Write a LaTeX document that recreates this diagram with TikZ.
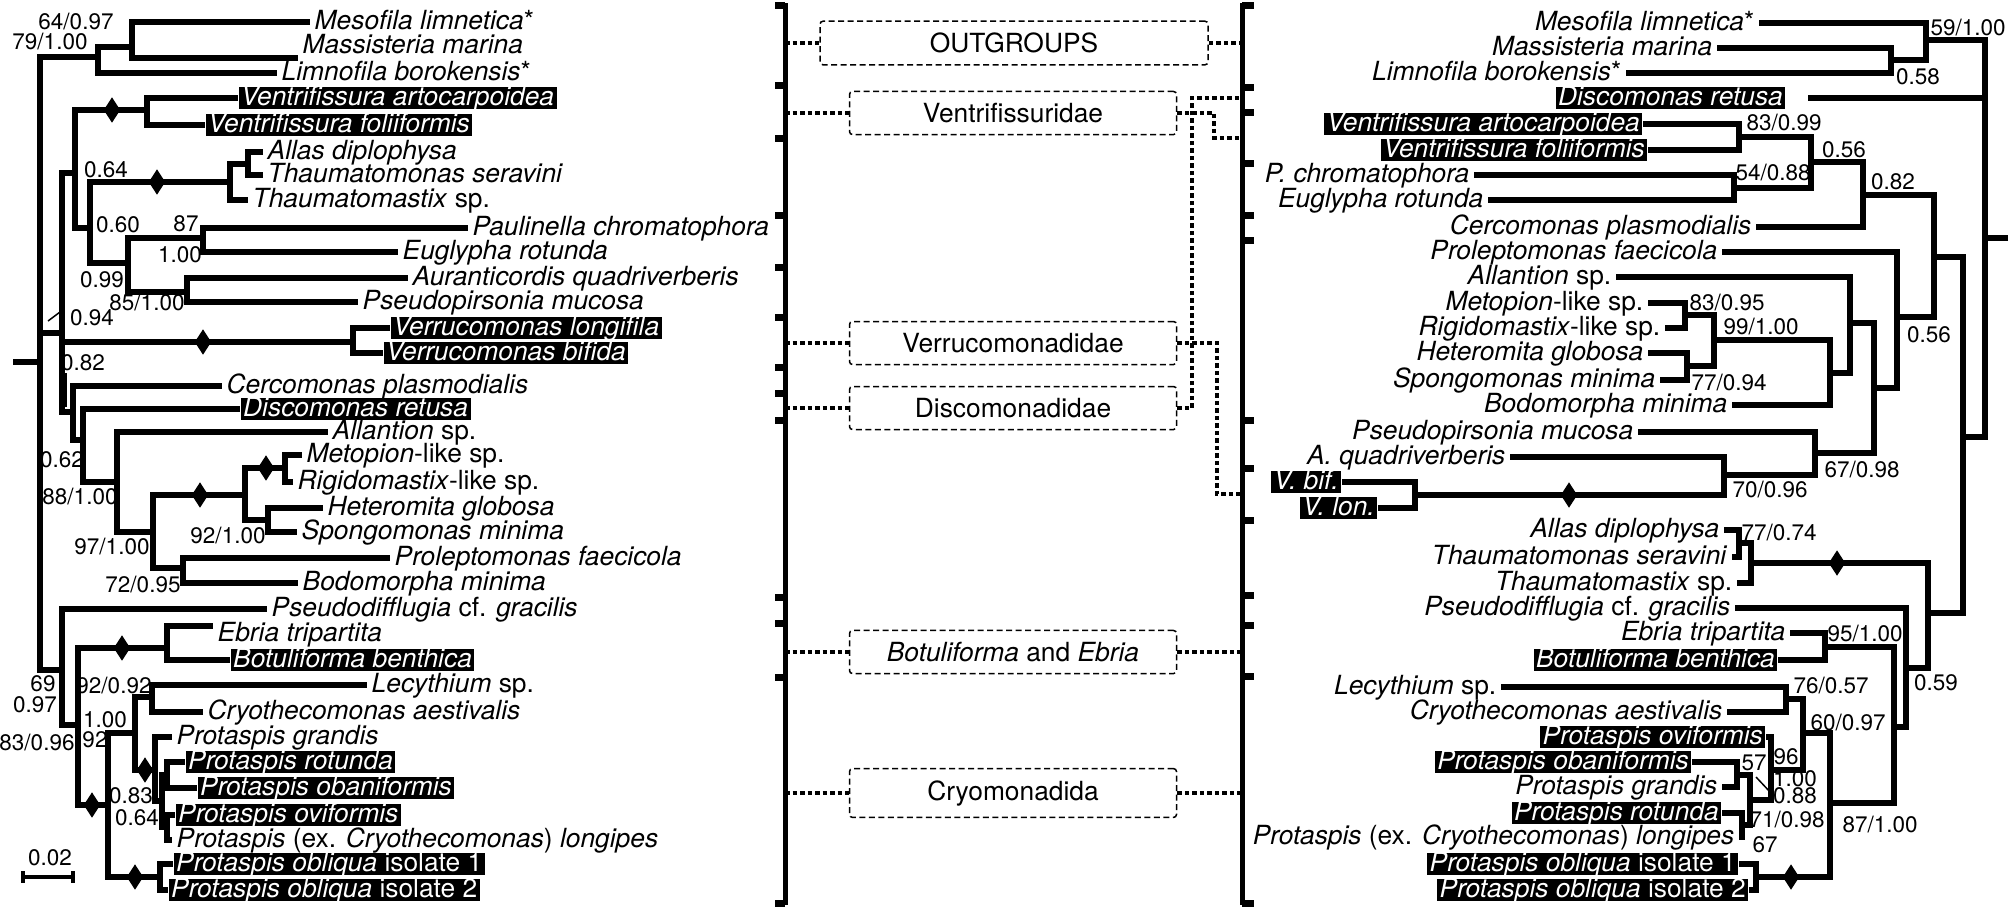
\documentclass[tikz,border=0pt]{standalone}
\usepackage{fontspec}
\setmainfont{TeX Gyre Heros}
\usetikzlibrary{shapes.geometric}
\newcommand{\leaffont}{\fontsize{7.5pt}{8pt}\selectfont}
\newcommand{\suppfont}{\fontsize{6.4pt}{7pt}\selectfont}
\newcommand{\grpfont}{\fontsize{7.5pt}{8pt}\selectfont}

\begin{document}
\begin{tikzpicture}[x=0.1mm, y=-0.1mm,
    br/.style={line width=0.55mm},
    leafL/.style={anchor=west, inner xsep=0.4mm, inner ysep=0.03mm, text height=1.8mm, text depth=0.4mm, font=\leaffont},
    leafR/.style={leafL, anchor=east},
    hiL/.style={leafL, fill=black, text=white, inner xsep=0.25mm},
    hiR/.style={hiL, anchor=east},
    supval/.style={font=\suppfont, inner sep=0},
    dia/.style={diamond, fill=black, inner sep=0, minimum width=1.7mm, minimum height=2.6mm},
    grp/.style={draw, line width=0.15mm, dash pattern=on 0.6mm off 0.35mm, rounded corners=0.3mm, minimum width=32.7mm, minimum height=3.9mm, font=\grpfont},
    lead/.style={line width=0.45mm, dash pattern=on 0.45mm off 0.3mm},
    brk/.style={line width=0.5mm},
    tck/.style={line width=0.7mm}]
    \useasboundingbox (0,0) rectangle (2011,910);

    % left tree
    \node[leafL] (Lmes) at (310,22) {\textit{Mesofila limnetica}*};
    \node[leafL, anchor=south west] (Lmas) at (298,58) {\textit{Massisteria marina}};
    \node[leafL] (Llim) at (277,73) {\textit{Limnofila borokensis}*};
    \node[hiL] (Lvar) at (238,98) {\textit{Ventrifissura artocarpoidea}};
    \node[hiL] (Lvfo) at (205,125) {\textit{Ventrifissura foliiformis}};
    \node[leafL] (Lall) at (263,152) {\textit{Allas diplophysa}};
    \node[leafL] (Lths) at (263,175) {\textit{Thaumatomonas seravini}};
    \node[leafL] (Ltmx) at (248,200) {\textit{Thaumatomastix} sp.};
    \node[leafL] (Lpau) at (468,228) {\textit{Paulinella chromatophora}};
    \node[leafL] (Leug) at (398,252) {\textit{Euglypha rotunda}};
    \node[leafL] (Laur) at (408,278) {\textit{Auranticordis quadriverberis}};
    \node[leafL] (Lpsp) at (358,302) {\textit{Pseudopirsonia mucosa}};
    \node[hiL] (Lvlo) at (390,328) {\textit{Verrucomonas longifila}};
    \node[hiL] (Lvbi) at (383,353) {\textit{Verrucomonas bifida}};
    \node[leafL] (Lcer) at (222,386) {\textit{Cercomonas plasmodialis}};
    \node[hiL] (Ldis) at (240,409) {\textit{Discomonas retusa}};
    \node[leafL] (Lalt) at (328,432) {\textit{Allantion} sp.};
    \node[leafL] (Lmet) at (302,455) {\textit{Metopion}-like sp.};
    \node[leafL] (Lrig) at (293,482) {\textit{Rigidomastix}-like sp.};
    \node[leafL] (Lhet) at (323,508) {\textit{Heteromita globosa}};
    \node[leafL] (Lspo) at (297,532) {\textit{Spongomonas minima}};
    \node[leafL] (Lpro) at (390,558) {\textit{Proleptomonas faecicola}};
    \node[leafL] (Lbod) at (298,583) {\textit{Bodomorpha minima}};
    \node[leafL] (Lpdf) at (267,609) {\textit{Pseudodifflugia} cf. \textit{gracilis}};
    \node[leafL] (Lebr) at (213,634) {\textit{Ebria tripartita}};
    \node[hiL] (Lbot) at (230,660) {\textit{Botuliforma benthica}};
    \node[leafL] (Llec) at (367,685) {\textit{Lecythium} sp.};
    \node[leafL] (Lcry) at (203,712) {\textit{Cryothecomonas aestivalis}};
    \node[leafL] (Lgra) at (172,737) {\textit{Protaspis grandis}};
    \node[hiL] (Lrot) at (185,762) {\textit{Protaspis rotunda}};
    \node[hiL] (Loba) at (197,788) {\textit{Protaspis obaniformis}};
    \node[hiL] (Lovi) at (175,815) {\textit{Protaspis oviformis}};
    \node[leafL] (Llon) at (172,840) {\textit{Protaspis} (ex. \textit{Cryothecomonas}) \textit{longipes}};
    \node[hiL] (Lob1) at (173,864) {\textit{Protaspis obliqua} isolate 1};
    \node[hiL] (Lob2) at (168,890) {\textit{Protaspis obliqua} isolate 2};

    \coordinate (stubL) at (13,362);
    \coordinate (kLroot) at (40,362);
    \coordinate (kLout) at (98,57);
    \coordinate (kLmm) at (132,47);
    \coordinate (kLa) at (62,333);
    \coordinate (kLb) at (75,173);
    \coordinate (kLve) at (147,110);
    \coordinate (kLc) at (90,228);
    \coordinate (kLth) at (230,182);
    \coordinate (kLat) at (248,164);
    \coordinate (kLd) at (128,263);
    \coordinate (kLpe) at (203,238);
    \coordinate (kLap) at (187,292);
    \coordinate (kLvr) at (353,342);
    \coordinate (kLe) at (73,412);
    \coordinate (kLf) at (83,440);
    \coordinate (kLg) at (117,482);
    \coordinate (kLh) at (153,532);
    \coordinate (kLi) at (245,495);
    \coordinate (kLmr) at (285,468);
    \coordinate (kLhs) at (268,520);
    \coordinate (kLpb) at (183,568);
    \coordinate (kLj) at (62,670);
    \coordinate (kLk) at (78,725);
    \coordinate (kLeb) at (167,648);
    \coordinate (kLl) at (108,805);
    \coordinate (kLm) at (135,733);
    \coordinate (kLlc) at (152,697);
    \coordinate (kLn) at (155,770);
    \coordinate (kLo) at (162,801);
    \coordinate (kLro) at (167,775);
    \coordinate (kLol) at (167,827);
    \coordinate (kLob) at (160,877);

    \draw[br] (stubL) -- (kLroot) |- (kLout);
    \draw[br] (kLroot) |- (kLa) (kLroot) |- (kLj);
    \draw[br] (kLout) |- (kLmm) (kLout) |- (Llim.west);
    \draw[br] (kLmm) |- (Lmes.west) (kLmm) |- (Lmas.south west);
    \draw[br] (kLa) |- (kLb) (kLa) |- (kLvr) (kLa) |- (kLe);
    \draw[br] (kLb) |- (kLve) (kLb) |- (kLc);
    \draw[br] (kLve) |- (Lvar.west) (kLve) |- (Lvfo.west);
    \draw[br] (kLc) |- (kLth) (kLc) |- (kLd);
    \draw[br] (kLth) |- (kLat) (kLth) |- (Ltmx.west);
    \draw[br] (kLat) |- (Lall.west) (kLat) |- (Lths.west);
    \draw[br] (kLd) |- (kLpe) (kLd) |- (kLap);
    \draw[br] (kLpe) |- (Lpau.west) (kLpe) |- (Leug.west);
    \draw[br] (kLap) |- (Laur.west) (kLap) |- (Lpsp.west);
    \draw[br] (kLvr) |- (Lvlo.west) (kLvr) |- (Lvbi.west);
    \draw[br] (kLe) |- (Lcer.west) (kLe) |- (kLf);
    \draw[br] (kLf) |- (Ldis.west) (kLf) |- (kLg);
    \draw[br] (kLg) |- (Lalt.west) (kLg) |- (kLh);
    \draw[br] (kLh) |- (kLi) (kLh) |- (kLpb);
    \draw[br] (kLi) |- (kLmr) (kLi) |- (kLhs);
    \draw[br] (kLmr) |- (Lmet.west) (kLmr) |- (Lrig.west);
    \draw[br] (kLhs) |- (Lhet.west) (kLhs) |- (Lspo.west);
    \draw[br] (kLpb) |- (Lpro.west) (kLpb) |- (Lbod.west);
    \draw[br] (kLj) |- (Lpdf.west) (kLj) |- (kLk);
    \draw[br] (kLk) |- (kLeb) (kLk) |- (kLl);
    \draw[br] (kLeb) |- ([yshift=0.8mm]Lebr.west) (kLeb) |- (Lbot.west);
    \draw[br] (kLl) |- (kLm) (kLl) |- (kLob);
    \draw[br] (kLm) |- (kLlc) (kLm) |- (kLn);
    \draw[br] (kLlc) |- (Llec.west) (kLlc) |- (Lcry.west);
    \draw[br] (kLn) |- (Lgra.west) (kLn) |- (kLo);
    \draw[br] (kLo) |- (kLro) (kLo) |- (kLol);
    \draw[br] (kLro) |- (Lrot.west) (kLro) |- (Loba.west);
    \draw[br] (kLol) |- (Lovi.west) (kLol) |- (Llon.west);
    \draw[br] (kLob) |- (Lob1.west) (kLob) |- (Lob2.west);

    \node[dia] (dL1) at (112,110) {};
    \node[dia] (dL2) at (157,182) {};
    \node[dia] (dL3) at (203,342) {};
    \node[dia] (dL4) at (200,495) {};
    \node[dia] (dL5) at (266,468) {};
    \node[dia] (dL6) at (122,648) {};
    \node[dia] (dL7) at (92,805) {};
    \node[dia] (dL8) at (145,770) {};
    \node[dia] (dL9) at (135,877) {};

    \node[supval] (sL1) at (76,22) {64/0.97};
    \node[supval] (sL2) at (50,42) {79/1.00};
    \node[supval] (sL3) at (106,170) {0.64};
    \node[supval] (sL4) at (118,225) {0.60};
    \node[supval] (sL5) at (186,224) {87};
    \node[supval] (sL6) at (180,255) {1.00};
    \node[supval] (sL7) at (102,280) {0.99};
    \node[supval] (sL8) at (147,303) {85/1.00};
    \node[supval] (sL9) at (92,318) {0.94};
    \node[supval] (sL10) at (83,363) {0.82};
    \node[supval] (sL11) at (62,460) {0.62};
    \node[supval] (sL12) at (80,497) {88/1.00};
    \node[supval] (sL13) at (112,547) {97/1.00};
    \node[supval] (sL14) at (228,536) {92/1.00};
    \node[supval] (sL15) at (143,585) {72/0.95};
    \node[supval] (sL16) at (43,684) {69};
    \node[supval] (sL17) at (35,705) {0.97};
    \node[supval] (sL18) at (114,685) {92/0.92};
    \node[supval] (sL19) at (105,720) {1.00};
    \node[supval] (sL20) at (95,740) {92};
    \node[supval] (sL21) at (37,742) {83/0.96};
    \node[supval] (sL22) at (131,796) {0.83};
    \node[supval] (sL23) at (137,818) {0.64};
    \draw[line width=0.15mm] (48,321) -- (60,312);
    \draw[line width=0.15mm] (66,373) -- (66,407);

    \node[supval] (scale) at (50,858) {0.02};
    \draw[line width=0.4mm] (23,877) -- (73,877) (23,871) -- (23,883) (73,871) -- (73,883);

    % brackets and groups
    \draw[brk] (785,3) -- (785,905);
    \foreach \y in {5,85,138,215,267,317,367,393,420,597,623,677,903}
        \draw[tck] (775,\y) -- (785,\y);
    \draw[brk] (1242,3) -- (1242,905);
    \foreach \y in {5,87,112,163,215,240,420,468,520,595,625,676,903}
        \draw[tck] (1242,\y) -- (1254,\y);

    \node[grp, minimum width=38.8mm] (gOut) at (1014,43) {OUTGROUPS};
    \node[grp] (gVen) at (1013,113) {Ventrifissuridae};
    \node[grp] (gVer) at (1013,343) {Verrucomonadidae};
    \node[grp] (gDis) at (1013,408) {Discomonadidae};
    \node[grp] (gBot) at (1013,652) {\textit{Botuliforma} and \textit{Ebria}};
    \node[grp] (gCry) at (1013,793) {Cryomonadida};

    \coordinate (bLout) at (785,43);
    \coordinate (bLven) at (785,113);
    \coordinate (bLver) at (785,343);
    \coordinate (bLdis) at (785,408);
    \coordinate (bLbot) at (785,652);
    \coordinate (bLcry) at (785,793);
    \coordinate (bRout) at (1242,43);
    \coordinate (cVen) at (1214,138);
    \coordinate (bRven) at (1242,138);
    \coordinate (cVer) at (1217,494);
    \coordinate (bRver) at (1242,494);
    \coordinate (cDis) at (1192,98);
    \coordinate (bRdis) at (1242,98);
    \coordinate (bRbot) at (1242,652);
    \coordinate (bRcry) at (1242,793);

    \draw[lead] (bLout) -- (gOut.west) (gOut.east) -- (bRout);
    \draw[lead] (bLven) -- (gVen.west) (gVen.east) -| (cVen) -- (bRven);
    \draw[lead] (bLver) -- (gVer.west) (gVer.east) -| (cVer) -- (bRver);
    \draw[lead] (bLdis) -- (gDis.west) (gDis.east) -| (cDis) -- (bRdis);
    \draw[lead] (bLbot) -- (gBot.west) (gBot.east) -- (bRbot);
    \draw[lead] (bLcry) -- (gCry.west) (gCry.east) -- (bRcry);

    % right tree
    \node[leafR] (Rmes) at (1759,23) {\textit{Mesofila limnetica}*};
    \node[leafR] (Rmas) at (1717,48) {\textit{Massisteria marina}};
    \node[leafR] (Rlim) at (1626,73) {\textit{Limnofila borokensis}*};
    \node[hiR] (Rdis) at (1786,98) {\textit{Discomonas retusa}};
    \node[hiR] (Rvar) at (1643,124) {\textit{Ventrifissura artocarpoidea}};
    \node[hiR] (Rvfo) at (1648,150) {\textit{Ventrifissura foliiformis}};
    \node[leafR] (Rpch) at (1474,175) {\textit{P. chromatophora}};
    \node[leafR] (Reug) at (1488,200) {\textit{Euglypha rotunda}};
    \node[leafR] (Rcer) at (1756,227) {\textit{Cercomonas plasmodialis}};
    \node[leafR] (Rpro) at (1722,252) {\textit{Proleptomonas faecicola}};
    \node[leafR] (Ralt) at (1616,277) {\textit{Allantion} sp.};
    \node[leafR] (Rmet) at (1648,303) {\textit{Metopion}-like sp.};
    \node[leafR] (Rrig) at (1665,328) {\textit{Rigidomastix}-like sp.};
    \node[leafR] (Rhet) at (1648,353) {\textit{Heteromita globosa}};
    \node[leafR] (Rspo) at (1660,380) {\textit{Spongomonas minima}};
    \node[leafR] (Rbod) at (1732,405) {\textit{Bodomorpha minima}};
    \node[leafR] (Rpsp) at (1638,432) {\textit{Pseudopirsonia mucosa}};
    \node[leafR] (Raqu) at (1510,457) {\textit{A. quadriverberis}};
    \node[hiR] (Rvbi) at (1342,482) {\textit{V. bif.}};
    \node[hiR] (Rvlo) at (1378,508) {\textit{V. lon.}};
    \node[leafR] (Rall) at (1724,530) {\textit{Allas diplophysa}};
    \node[leafR] (Rths) at (1732,557) {\textit{Thaumatomonas seravini}};
    \node[leafR] (Rtmx) at (1737,583) {\textit{Thaumatomastix} sp.};
    \node[leafR] (Rpdf) at (1735,608) {\textit{Pseudodifflugia} cf. \textit{gracilis}};
    \node[leafR] (Rebr) at (1790,633) {\textit{Ebria tripartita}};
    \node[hiR] (Rbot) at (1778,660) {\textit{Botuliforma benthica}};
    \node[leafR] (Rlec) at (1501,687) {\textit{Lecythium} sp.};
    \node[leafR] (Rcry) at (1727,712) {\textit{Cryothecomonas aestivalis}};
    \node[hiR] (Rovi) at (1766,737) {\textit{Protaspis oviformis}};
    \node[hiR] (Roba) at (1692,762) {\textit{Protaspis obaniformis}};
    \node[leafR] (Rgra) at (1722,787) {\textit{Protaspis grandis}};
    \node[hiR] (Rrot) at (1722,813) {\textit{Protaspis rotunda}};
    \node[leafR] (Rlon) at (1739,837) {\textit{Protaspis} (ex. \textit{Cryothecomonas}) \textit{longipes}};
    \node[hiR] (Rob1) at (1739,864) {\textit{Protaspis obliqua} isolate 1};
    \node[hiR] (Rob2) at (1749,890) {\textit{Protaspis obliqua} isolate 2};

    \coordinate (stubR) at (2008,238);
    \coordinate (kRroot) at (1985,238);
    \coordinate (kRmm) at (1926,40);
    \coordinate (kRml) at (1891,60);
    \coordinate (kRn) at (1963,437);
    \coordinate (kRa) at (1934,257);
    \coordinate (kRc) at (1863,195);
    \coordinate (kRvp) at (1811,162);
    \coordinate (kRvv) at (1739,137);
    \coordinate (kRpe) at (1734,188);
    \coordinate (kRb) at (1897,317);
    \coordinate (kRk) at (1874,388);
    \coordinate (kRal) at (1850,323);
    \coordinate (kRbo) at (1830,373);
    \coordinate (kRmh) at (1714,340);
    \coordinate (kRmr) at (1685,315);
    \coordinate (kRhs) at (1687,366);
    \coordinate (kRpa) at (1815,453);
    \coordinate (kRav) at (1724,475);
    \coordinate (kRvb) at (1415,495);
    \coordinate (kRt) at (1928,613);
    \coordinate (kRth) at (1751,563);
    \coordinate (kRat) at (1739,543);
    \coordinate (kRps) at (1906,668);
    \coordinate (kReb) at (1894,727);
    \coordinate (kRet) at (1825,647);
    \coordinate (kRcr) at (1830,803);
    \coordinate (kRlc) at (1803,733);
    \coordinate (kRle) at (1786,699);
    \coordinate (kRg) at (1771,770);
    \coordinate (kRog) at (1750,800);
    \coordinate (kRoa) at (1737,775);
    \coordinate (kRrl) at (1742,825);
    \coordinate (kRob) at (1756,877);

    \draw[br] (stubR) -- (kRroot) |- (kRmm);
    \draw[br] (kRroot) |- ([xshift=2.2mm]Rdis.east) (kRroot) |- (kRn);
    \draw[br] (kRmm) |- (Rmes.east) (kRmm) |- (kRml);
    \draw[br] (kRml) |- (Rmas.east) (kRml) |- (Rlim.east);
    \draw[br] (kRn) |- (kRa) (kRn) |- (kRt);
    \draw[br] (kRa) |- (kRc) (kRa) |- (kRb);
    \draw[br] (kRc) |- (kRvp) (kRc) |- (Rcer.east);
    \draw[br] (kRvp) |- (kRvv) (kRvp) |- (kRpe);
    \draw[br] (kRvv) |- (Rvar.east) (kRvv) |- (Rvfo.east);
    \draw[br] (kRpe) |- (Rpch.east) (kRpe) |- (Reug.east);
    \draw[br] (kRb) |- (Rpro.east) (kRb) |- (kRk);
    \draw[br] (kRk) |- (kRal) (kRk) |- (kRpa);
    \draw[br] (kRal) |- (Ralt.east) (kRal) |- (kRbo);
    \draw[br] (kRbo) |- (kRmh) (kRbo) |- (Rbod.east);
    \draw[br] (kRmh) |- (kRmr) (kRmh) |- (kRhs);
    \draw[br] (kRmr) |- (Rmet.east) (kRmr) |- (Rrig.east);
    \draw[br] (kRhs) |- (Rhet.east) (kRhs) |- (Rspo.east);
    \draw[br] (kRpa) |- (Rpsp.east) (kRpa) |- (kRav);
    \draw[br] (kRav) |- (Raqu.east) (kRav) |- (kRvb);
    \draw[br] (kRvb) |- (Rvbi.east) (kRvb) |- (Rvlo.east);
    \draw[br] (kRt) |- (kRth) (kRt) |- (kRps);
    \draw[br] (kRth) |- (kRat) (kRth) |- (Rtmx.east);
    \draw[br] (kRat) |- (Rall.east) (kRat) |- (Rths.east);
    \draw[br] (kRps) |- (Rpdf.east) (kRps) |- (kReb);
    \draw[br] (kReb) |- (kRet) (kReb) |- (kRcr);
    \draw[br] (kRet) |- (Rebr.east) (kRet) |- (Rbot.east);
    \draw[br] (kRcr) |- (kRlc) (kRcr) |- (kRob);
    \draw[br] (kRlc) |- (kRle) (kRlc) |- (kRg);
    \draw[br] (kRle) |- (Rlec.east) (kRle) |- (Rcry.east);
    \draw[br] (kRg) |- (Rovi.east) (kRg) |- (kRog);
    \draw[br] (kRog) |- (kRoa) (kRog) |- (kRrl);
    \draw[br] (kRoa) |- (Roba.east) (kRoa) |- (Rgra.east);
    \draw[br] (kRrl) |- (Rrot.east) (kRrl) |- (Rlon.east);
    \draw[br] (kRob) |- (Rob1.east) (kRob) |- (Rob2.east);

    \node[dia] (dR1) at (1569,495) {};
    \node[dia] (dR2) at (1837,563) {};
    \node[dia] (dR3) at (1791,877) {};

    \node[supval] (sR1) at (1968,28) {59/1.00};
    \node[supval] (sR2) at (1918,77) {0.58};
    \node[supval] (sR3) at (1784,123) {83/0.99};
    \node[supval] (sR4) at (1844,150) {0.56};
    \node[supval] (sR5) at (1773,173) {54/0.88};
    \node[supval] (sR6) at (1893,182) {0.82};
    \node[supval] (sR7) at (1727,303) {83/0.95};
    \node[supval] (sR8) at (1761,327) {99/1.00};
    \node[supval] (sR9) at (1929,335) {0.56};
    \node[supval] (sR10) at (1729,383) {77/0.94};
    \node[supval] (sR11) at (1862,470) {67/0.98};
    \node[supval] (sR12) at (1770,490) {70/0.96};
    \node[supval] (sR13) at (1779,533) {77/0.74};
    \node[supval] (sR14) at (1865,633) {95/1.00};
    \node[supval] (sR15) at (1936,683) {0.59};
    \node[supval] (sR16) at (1831,685) {76/0.57};
    \node[supval] (sR17) at (1848,722) {60/0.97};
    \node[supval] (sR18) at (1786,757) {96};
    \node[supval] (sR19) at (1754,763) {57};
    \node[supval] (sR20) at (1795,779) {1.00};
    \node[supval] (sR21) at (1795,796) {0.88};
    \node[supval] (sR22) at (1787,819) {71/0.98};
    \node[supval] (sR23) at (1765,845) {67};
    \node[supval] (sR24) at (1880,824) {87/1.00};
    \draw[line width=0.15mm] (1756,777) -- (1771,793);
\end{tikzpicture}
\end{document}
